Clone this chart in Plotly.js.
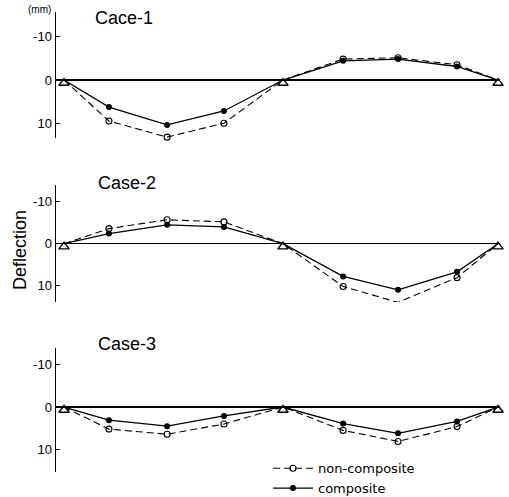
<!DOCTYPE html>
<html>
<head>
<meta charset="utf-8">
<script src="https://cdn.plot.ly/plotly-3.0.1.min.js"></script>
<style>html,body{margin:0;padding:0;background:#fff;}#chart{width:509px;height:497px;}</style>
</head>
<body>
<div id="chart"></div>
<script>
// Measuring positions along the two-span beam (support, 3 points, support, 3 points, support)
const xPos = [0, 0.207, 0.475, 0.737, 1.009, 1.286, 1.539, 1.811, 2.0];
const supportX = [0, 1.009, 2.0];
const supportMarkY = [0.7, 0.7, 0.7];

// Deflection (mm), positive = downward
const case1NonComposite = [0, 9.4, 13.1, 9.9, 0, -4.8, -5.1, -3.5, 0];
const case1Composite    = [0, 6.2, 10.3, 7.1, 0, -4.4, -4.8, -3.1, 0];
const case2NonComposite = [0, -3.6, -5.7, -5.2, 0, 10.2, 14.0, 8.1, 0];
const case2Composite    = [0, -2.4, -4.5, -4.0, 0, 7.8, 11.0, 6.7, 0];
const case3NonComposite = [0, 5.2, 6.4, 4.0, 0, 5.5, 8.1, 4.6, 0];
const case3Composite    = [0, 3.1, 4.5, 2.1, 0, 3.9, 6.2, 3.4, 0];

const caseTitles = ["Cace-1", "Case-2", "Case-3"];
const seriesNames = ["non-composite", "composite"];
const tickVals = [-10, 0, 10];
const tickText = ["-10", "0", "10"];

const cases = [
  [case1NonComposite, case1Composite],
  [case2NonComposite, case2Composite],
  [case3NonComposite, case3Composite]
];
const yIds = ["y", "y2", "y3"];

const styles = [
  {line: {color: "#000", width: 1.1, dash: "7px,4px"},
   marker: {symbol: "circle-open", size: 6, color: "#000", line: {width: 1.1, color: "#000"}}},
  {line: {color: "#000", width: 1.3},
   marker: {symbol: "circle", size: 6, color: "#000"}}
];

// measured points only (no circle on the supports)
const interior = vals => vals.map((v, i) => supportX.includes(xPos[i]) ? null : v);

const traces = [];
cases.forEach((pair, i) => {
  pair.forEach((vals, s) => {
    traces.push({
      x: xPos, y: vals, xaxis: "x", yaxis: yIds[i],
      type: "scatter", mode: "lines", showlegend: false, hoverinfo: "skip",
      cliponaxis: false, line: styles[s].line
    });
    traces.push({
      x: xPos, y: interior(vals), xaxis: "x", yaxis: yIds[i],
      type: "scatter", mode: "markers", showlegend: false,
      cliponaxis: false, marker: styles[s].marker
    });
  });
  traces.push({
    x: supportX, y: supportMarkY, xaxis: "x", yaxis: yIds[i],
    type: "scatter", mode: "markers", showlegend: false, hoverinfo: "skip", cliponaxis: false,
    marker: {symbol: "triangle-up-open", size: 9, color: "#000", line: {width: 1.4, color: "#000"}}
  });
});
// legend entries
seriesNames.forEach((name, s) => {
  traces.push({
    x: [null], y: [null], xaxis: "x", yaxis: "y3", type: "scatter", mode: "lines+markers",
    name: name, showlegend: true, legendrank: s + 1,
    line: styles[s].line, marker: styles[s].marker
  });
});

function yAxis(domain, range) {
  return {
    domain: domain, range: range,
    showline: true, linecolor: "#000", linewidth: 1.5,
    showgrid: false,
    zeroline: true, zerolinecolor: "#000", zerolinewidth: 1.4,
    ticks: "inside", ticklen: 4, tickcolor: "#000", tickwidth: 1.3,
    tickvals: tickVals, ticktext: tickText,
    tickfont: {family: "Liberation Sans", size: 13, color: "#000"},
    fixedrange: true
  };
}

const titleFont = {family: "Liberation Sans", size: 18, color: "#000"};
const layout = {
  width: 509, height: 497,
  margin: {l: 56, r: 9, t: 0, b: 0, autoexpand: false},
  paper_bgcolor: "#fff", plot_bgcolor: "#fff",
  xaxis: {range: [-0.037, 2.009], visible: false, fixedrange: true, anchor: "y3"},
  yaxis: yAxis([0.7223, 0.9759], [13.3, -15.6]),
  yaxis2: yAxis([0.3924, 0.6278], [13.9, -14.0]),
  yaxis3: yAxis([0.0503, 0.2998], [15.3, -13.9]),
  showlegend: true,
  legend: {
    x: 0.4775, y: 0.088, xanchor: "left", yanchor: "top",
    font: {family: "DejaVu Sans", size: 13, color: "#000"},
    bgcolor: "rgba(0,0,0,0)", itemwidth: 40, tracegroupgap: 0
  },
  annotations: [
    {text: caseTitles[0], xref: "paper", yref: "paper", x: 0.153, y: 0.9638, showarrow: false, font: titleFont, xanchor: "center", yanchor: "middle"},
    {text: caseTitles[1], xref: "paper", yref: "paper", x: 0.160, y: 0.6318, showarrow: false, font: titleFont, xanchor: "center", yanchor: "middle"},
    {text: caseTitles[2], xref: "paper", yref: "paper", x: 0.160, y: 0.3078, showarrow: false, font: titleFont, xanchor: "center", yanchor: "middle"},
    {text: "(mm)", xref: "paper", yref: "paper", x: -0.007, y: 0.98, showarrow: false, xanchor: "right", yanchor: "middle",
     font: {family: "Liberation Sans", size: 10, color: "#000"}},
    {text: "Deflection", xref: "paper", yref: "paper", x: -0.081, y: 0.497, showarrow: false, textangle: -90,
     xanchor: "center", yanchor: "middle", font: {family: "Liberation Sans", size: 18, color: "#000"}}
  ]
};

Plotly.newPlot("chart", traces, layout, {staticPlot: true, displayModeBar: false});
</script>
</body>
</html>
